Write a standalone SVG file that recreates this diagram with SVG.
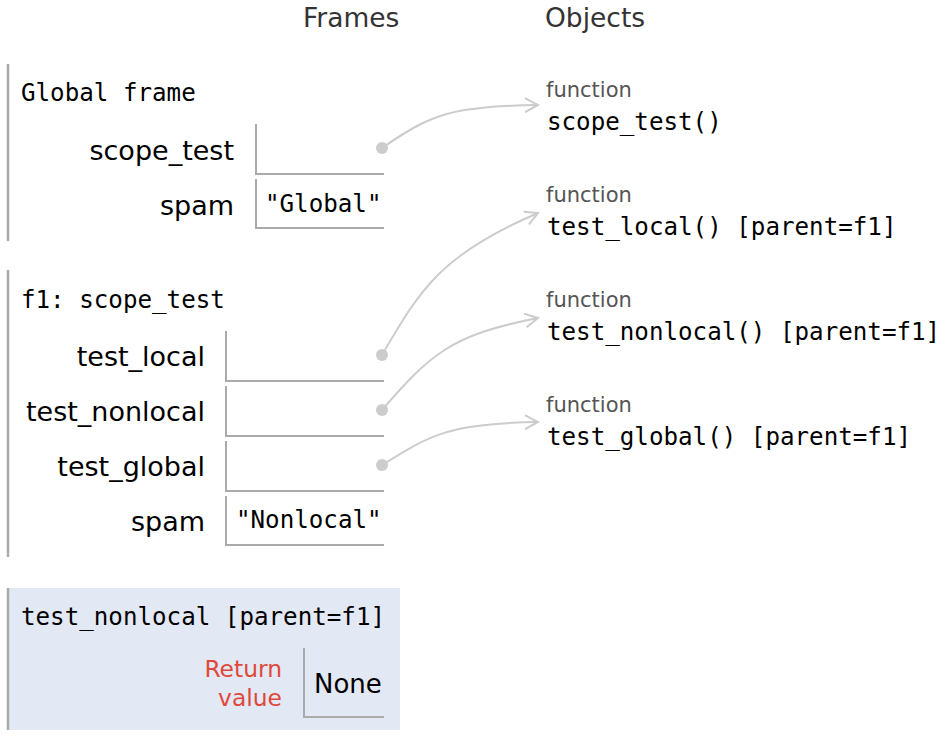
<svg xmlns="http://www.w3.org/2000/svg" width="945" height="742" viewBox="0 0 945 742">
<style>
.hdr{font-family:"DejaVu Sans","Verdana",sans-serif;font-size:26.5px;fill:#333}
.mono{font-family:"DejaVu Sans Mono","Liberation Mono",monospace;font-size:24.2px;fill:#000}
.lbl{font-family:"DejaVu Sans",sans-serif;font-size:27px;fill:#000;text-anchor:end}
.fn{font-family:"DejaVu Sans",sans-serif;font-size:21px;fill:#555}
.ret{font-family:"DejaVu Sans",sans-serif;font-size:23.4px;fill:#e0483c;text-anchor:end}
.val{font-family:"DejaVu Sans",sans-serif;font-size:26px;fill:#000}
.bar{stroke:#aaa;stroke-width:2.5;fill:none}
.box{stroke:#aaa;stroke-width:2;fill:none}
.dot{fill:#ccc}
.arr{stroke:#ccc;stroke-width:2;fill:none}
</style>
<defs>
<marker id="ah" markerWidth="16" markerHeight="16" refX="13" refY="8" orient="auto" markerUnits="userSpaceOnUse">
<path d="M0,1 L13,8 L0,15" fill="none" stroke="#ccc" stroke-width="2"/>
</marker>
</defs>
<rect width="945" height="742" fill="#fff"/>
<text class="hdr" x="303" y="27">Frames</text>
<text class="hdr" x="545" y="27">Objects</text>

<g id="global-frame">
<line class="bar" x1="8" y1="64" x2="8" y2="241"/>
<text class="mono" x="21" y="101">Global frame</text>
<text class="lbl" x="234" y="160">scope_test</text>
<path class="box" d="M256,124 V174 H384"/>
<circle class="dot" cx="382" cy="148" r="6"/>
<text class="lbl" x="234" y="215">spam</text>
<path class="box" d="M256,179 V228 H384"/>
<text class="mono" x="265" y="212">"Global"</text>
</g>

<g id="f1-frame">
<line class="bar" x1="8" y1="270" x2="8" y2="557"/>
<text class="mono" x="21" y="308">f1: scope_test</text>
<text class="lbl" x="205" y="366">test_local</text>
<path class="box" d="M226,331 V381 H384"/>
<circle class="dot" cx="382" cy="355" r="6"/>
<text class="lbl" x="205" y="421">test_nonlocal</text>
<path class="box" d="M226,386 V436 H384"/>
<circle class="dot" cx="382" cy="410" r="6"/>
<text class="lbl" x="205" y="476">test_global</text>
<path class="box" d="M226,441 V491 H384"/>
<circle class="dot" cx="382" cy="465" r="6"/>
<text class="lbl" x="205" y="531">spam</text>
<path class="box" d="M226,496 V545 H384"/>
<text class="mono" x="236" y="528">"Nonlocal"</text>
</g>

<g id="current-frame">
<rect x="8" y="588" width="392" height="142" fill="#e2e8f4"/>
<line class="bar" x1="8" y1="588" x2="8" y2="730"/>
<text class="mono" x="21" y="625">test_nonlocal [parent=f1]</text>
<text class="ret" x="282" y="677">Return</text>
<text class="ret" x="282" y="706">value</text>
<path class="box" d="M304,648 V717 H384"/>
<text class="val" x="314" y="693">None</text>
</g>

<g id="obj-scope_test">
<text class="fn" x="546" y="97">function</text>
<text class="mono" x="547" y="130">scope_test()</text>
</g>
<g id="obj-test_local">
<text class="fn" x="546" y="202">function</text>
<text class="mono" x="547" y="235">test_local() [parent=f1]</text>
</g>
<g id="obj-test_nonlocal">
<text class="fn" x="546" y="307">function</text>
<text class="mono" x="547" y="340">test_nonlocal() [parent=f1]</text>
</g>
<g id="obj-test_global">
<text class="fn" x="546" y="412">function</text>
<text class="mono" x="547" y="445">test_global() [parent=f1]</text>
</g>

<g id="connectors">
<path class="arr" marker-end="url(#ah)" d="M382,148 C430,115 450,106 538,105"/>
<path class="arr" marker-end="url(#ah)" d="M382,355 C420,290 440,255 538,213"/>
<path class="arr" marker-end="url(#ah)" d="M382,410 C430,355 450,335 538,318"/>
<path class="arr" marker-end="url(#ah)" d="M382,465 C430,435 450,423 538,422"/>
</g>
</svg>
